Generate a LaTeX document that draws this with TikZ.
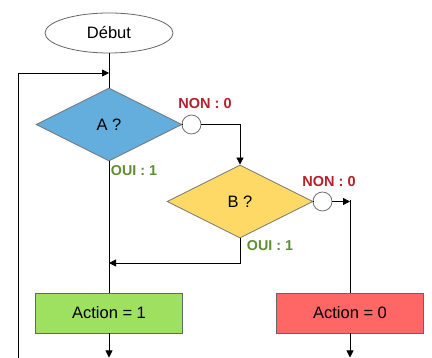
\documentclass[tikz,border=0pt]{standalone}
\usepackage{fontspec}
\setmainfont{Liberation Sans}
\usetikzlibrary{shapes.geometric,arrows.meta}
\definecolor{dblue}{RGB}{100,174,221}
\definecolor{dyellow}{RGB}{255,217,102}
\definecolor{dgreen}{RGB}{158,224,96}
\definecolor{dred}{RGB}{255,102,102}
\definecolor{lblred}{RGB}{180,32,44}
\definecolor{lblgreen}{RGB}{96,140,50}
\tikzset{
  conn/.style={draw=black, line width=0.8pt},
  arr/.style={conn, -{Stealth[length=7pt,width=7pt,inset=0pt]}},
  decision/.style={diamond, draw=black!55, line width=0.8pt, inner sep=0pt,
    minimum width=146pt, minimum height=73pt, font=\fontsize{16.5}{18}\selectfont},
  actionbox/.style={rectangle, draw=black!60, line width=0.8pt,
    minimum width=147pt, minimum height=40pt, inner sep=0pt, font=\fontsize{16.5}{18}\selectfont},
  startnode/.style={ellipse, draw=black!60, line width=0.8pt, fill=white,
    minimum width=128pt, minimum height=40pt, inner sep=0pt, font=\fontsize{16.5}{18}\selectfont},
  knob/.style={circle, draw=black!55, line width=0.8pt, fill=white, minimum size=19pt, inner sep=0pt},
  nonlbl/.style={text=lblred, font=\bfseries\fontsize{14.5}{16}\selectfont, inner sep=0pt},
  ouilbl/.style={text=lblgreen, font=\bfseries\fontsize{14.3}{16}\selectfont, inner sep=0pt},
}
\begin{document}
\begin{tikzpicture}[x=1pt,y=-1pt]
\useasboundingbox (0,0) rectangle (432,358);
\node[startnode] (debut) at (109,33) {Début};
\node[decision, fill=dblue] (A) at (109,124.5) {A ?};
\node[knob] (cA) at (191.5,124.5) {};
\node[decision, fill=dyellow] (B) at (240,201.5) {B ?};
\node[knob] (cB) at (322.5,201.5) {};
\node[actionbox, fill=dgreen] (act1) at (109,313) {Action = 1};
\node[actionbox, fill=dred] (act0) at (350,313) {Action = 0};
\node[nonlbl] (nonA) at (205,104) {NON : 0};
\node[ouilbl] (ouiA) at (134,171) {OUI : 1};
\node[nonlbl] (nonB) at (329,182) {NON : 0};
\node[ouilbl] (ouiB) at (270,246) {OUI : 1};
\coordinate (loopbot) at (18,358);
\coordinate (looptop) at (18,73);
\coordinate (loopend) at (109,73);
\coordinate (joinB) at (109,263);
\coordinate (bend0) at (350,201.5);
\coordinate (bend0top) at (350,200);
\coordinate (out1) at (109,357.5);
\coordinate (out0) at (350,357.5);
\draw[conn] (debut.south) -- (A.north);
\draw[arr] (loopbot) -- (looptop) -- (loopend);
\draw[conn] (A.east) -- (cA.west);
\draw[arr] (cA.east) -| (B.north);
\draw[conn] (B.east) -- (cB.west);
\draw[arr] (cB.east) -- (bend0);
\draw[conn] (bend0top) -- (act0.north);
\draw[conn] (A.south) -- (act1.north);
\draw[arr] (B.south) |- (joinB);
\draw[arr] (act1.south) -- (out1);
\draw[arr] (act0.south) -- (out0);
\end{tikzpicture}
\end{document}
